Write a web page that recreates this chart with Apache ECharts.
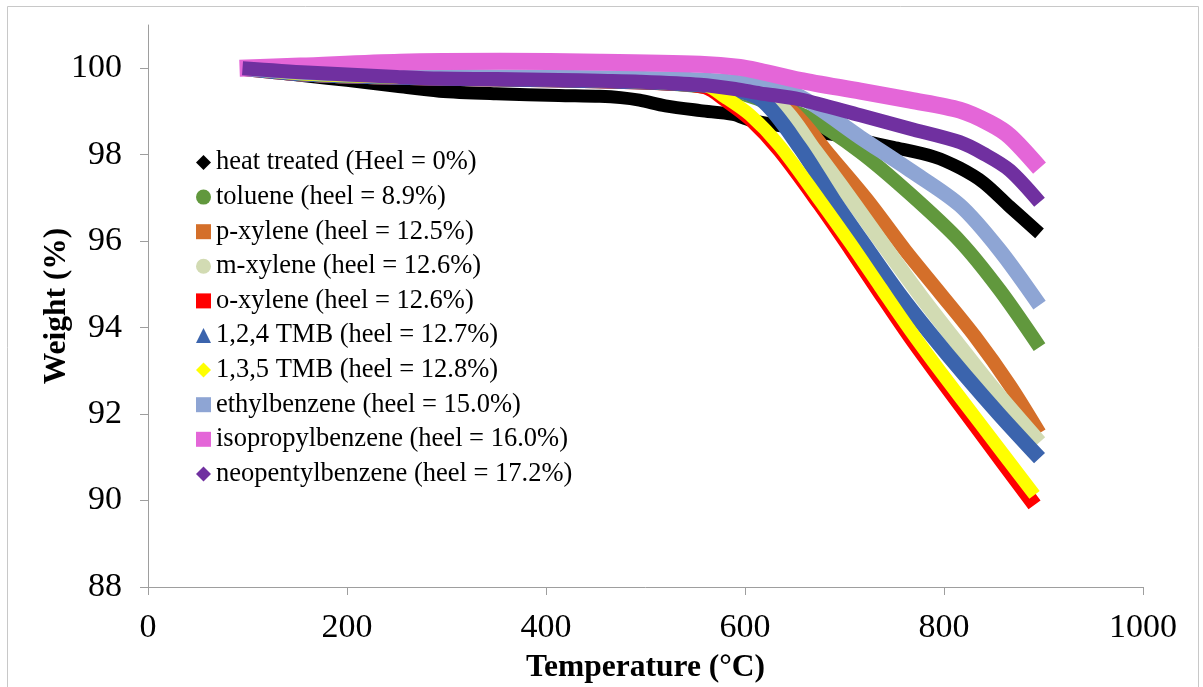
<!DOCTYPE html>
<html>
<head>
<meta charset="utf-8">
<script src="https://cdn.jsdelivr.net/npm/echarts@6/dist/echarts.min.js"></script>
<style>
  html, body { margin: 0; padding: 0; background: #fff; }
  #chart { width: 1203px; height: 687px; }
</style>
</head>
<body>
<div id="chart"></div>
<script>
// TGA curves: [temperature (°C), weight (%)]
const heatTreated = [[95,100],[160,99.82],[200,99.72],[250,99.58],[293,99.47],[350,99.41],[413,99.37],[454,99.35],[475,99.32],[494,99.26],[520,99.13],[555,99.02],[588,98.93],[605,98.8],[640,98.65],[688,98.47],[749,98.17],[790,97.95],[816,97.69],[840,97.35],[866,96.8],[896,96.18]];
const toluene = [[95,100],[160,99.86],[250,99.79],[350,99.75],[450,99.71],[540,99.62],[590,99.45],[625,99.19],[665,98.84],[716,98.06],[766,97.09],[816,96.0],[856,94.87],[896,93.55]];
const pXylene = [[95,100],[160,99.86],[250,99.79],[350,99.75],[450,99.71],[540,99.64],[600,99.5],[645,99.05],[685,97.99],[723,96.95],[761,95.79],[796,94.8],[831,93.8],[866,92.67],[896,91.56]];
const mXylene = [[95,100],[160,99.86],[250,99.79],[350,99.75],[450,99.71],[540,99.64],[590,99.5],[635,99.14],[670,98.1],[707,96.95],[743,95.79],[776,94.75],[811,93.71],[851,92.55],[896,91.35]];
const oXylene = [[95,100],[160,99.86],[250,99.79],[350,99.75],[450,99.71],[520,99.66],[560,99.57],[580,99.28],[605,98.84],[635,98.1],[675,96.86],[706,95.83],[736,94.8],[766,93.79],[796,92.84],[836,91.6],[891,89.9]];
const tmb124 = [[95,100],[160,99.86],[250,99.79],[350,99.75],[450,99.71],[530,99.65],[580,99.55],[617,99.26],[655,98.17],[689,96.95],[724,95.79],[756,94.75],[786,93.87],[821,92.9],[856,91.98],[896,90.98]];
const tmb135 = [[95,100],[160,99.86],[250,99.79],[350,99.75],[450,99.71],[520,99.66],[560,99.6],[580,99.33],[605,98.92],[635,98.2],[675,96.95],[706,95.95],[736,94.94],[766,93.94],[796,93.0],[836,91.79],[891,90.13]];
const ethylbenzene = [[95,100],[160,99.9],[250,99.83],[350,99.8],[450,99.78],[555,99.73],[615,99.61],[655,99.35],[716,98.4],[766,97.64],[816,96.83],[856,95.79],[896,94.52]];
const isopropylbenzene = [[92,100],[153,100.05],[253,100.14],[354,100.16],[454,100.14],[555,100.09],[595,100.02],[615,99.93],[655,99.72],[716,99.47],[766,99.26],[816,99.03],[846,98.73],[866,98.43],[896,97.69]];
const neopentylbenzene = [[95,100],[160,99.9],[250,99.8],[293,99.76],[350,99.75],[413,99.73],[454,99.71],[494,99.69],[555,99.62],[590,99.52],[615,99.42],[655,99.28],[716,98.91],[766,98.6],[816,98.29],[840,98.02],[866,97.64],[896,96.9]];

const seriesNames = [
  'heat treated (Heel = 0%)',
  'toluene (heel = 8.9%)',
  'p-xylene (heel = 12.5%)',
  'm-xylene (heel = 12.6%)',
  'o-xylene (heel = 12.6%)',
  '1,2,4 TMB (heel = 12.7%)',
  '1,3,5 TMB (heel = 12.8%)',
  'ethylbenzene (heel = 15.0%)',
  'isopropylbenzene (heel = 16.0%)',
  'neopentylbenzene (heel = 17.2%)'
];
const seriesData = [heatTreated, toluene, pXylene, mXylene, oXylene, tmb124, tmb135, ethylbenzene, isopropylbenzene, neopentylbenzene];
const seriesColors = ['#000000', '#61983D', '#D46F2A', '#D2DBB3', '#FF0000', '#3B64AD', '#FFFF00', '#8EA5D4', '#E466D8', '#7030A0'];
const seriesIcons = ['diamond', 'circle', 'rect', 'circle', 'rect', 'triangle', 'diamond', 'rect', 'rect', 'diamond'];
const bandWidths = [13, 14, 14, 15, 15, 15, 13, 15, 17, 14];

const weightTicks = [88, 90, 92, 94, 96, 98, 100];
const tempTicks = [0, 200, 400, 600, 800, 1000];

const serif = 'Liberation Serif';
const axisGray = '#9e9e9e';

const chart = echarts.init(document.getElementById('chart'), null, { renderer: 'canvas' });

chart.setOption({
  animation: false,
  backgroundColor: '#ffffff',
  graphic: [{
    type: 'rect',
    shape: { x: 7.5, y: 6.5, width: 1191, height: 700 },
    style: { fill: 'none', stroke: '#c8c8c8', lineWidth: 1 },
    silent: true
  }],
  grid: { left: 148, right: 60, top: 25, bottom: 100, outerBoundsMode: 'none' },
  xAxis: {
    type: 'value',
    min: 0, max: 1000, interval: 200,
    name: 'Temperature (°C)',
    nameLocation: 'middle',
    nameGap: 65,
    nameMoveOverlap: false,
    nameTextStyle: { fontFamily: serif, fontWeight: 'bold', fontSize: 31.5, color: '#000' },
    axisLine: { show: true, lineStyle: { color: axisGray, width: 1 } },
    axisTick: { show: true, inside: false, length: 8, lineStyle: { color: axisGray }, customValues: tempTicks },
    axisLabel: { fontFamily: serif, fontSize: 34, color: '#000', margin: 24, customValues: tempTicks, formatter: v => String(v) },
    splitLine: { show: false }
  },
  yAxis: {
    type: 'value',
    min: 88, max: 101, interval: 2,
    name: 'Weight (%)',
    nameLocation: 'middle',
    nameGap: 75,
    nameMoveOverlap: false,
    nameRotate: 90,
    nameTextStyle: { fontFamily: serif, fontWeight: 'bold', fontSize: 31.5, color: '#000' },
    axisLine: { show: true, lineStyle: { color: axisGray, width: 1 } },
    axisTick: { show: true, inside: false, length: 8, lineStyle: { color: axisGray }, customValues: weightTicks },
    axisLabel: { fontFamily: serif, fontSize: 34, color: '#000', margin: 26, customValues: weightTicks, formatter: v => String(v) },
    splitLine: { show: false }
  },
  legend: {
    orient: 'vertical',
    left: 191,
    top: 144,
    itemWidth: 15,
    itemHeight: 15,
    itemGap: 7.6,
    textStyle: { fontFamily: serif, fontSize: 26.5, color: '#000', lineHeight: 26 },
    data: seriesNames.map((n, i) => ({ name: n, icon: seriesIcons[i] }))
  },
  series: seriesData.map((d, i) => ({
    name: seriesNames[i],
    type: 'line',
    data: d,
    smooth: 0.3,
    showSymbol: false,
    symbol: seriesIcons[i],
    color: seriesColors[i],
    itemStyle: { color: seriesColors[i] },
    lineStyle: { color: seriesColors[i], width: bandWidths[i], cap: 'butt', join: 'round' },
    emphasis: { disabled: true }
  }))
});
</script>
</body>
</html>
